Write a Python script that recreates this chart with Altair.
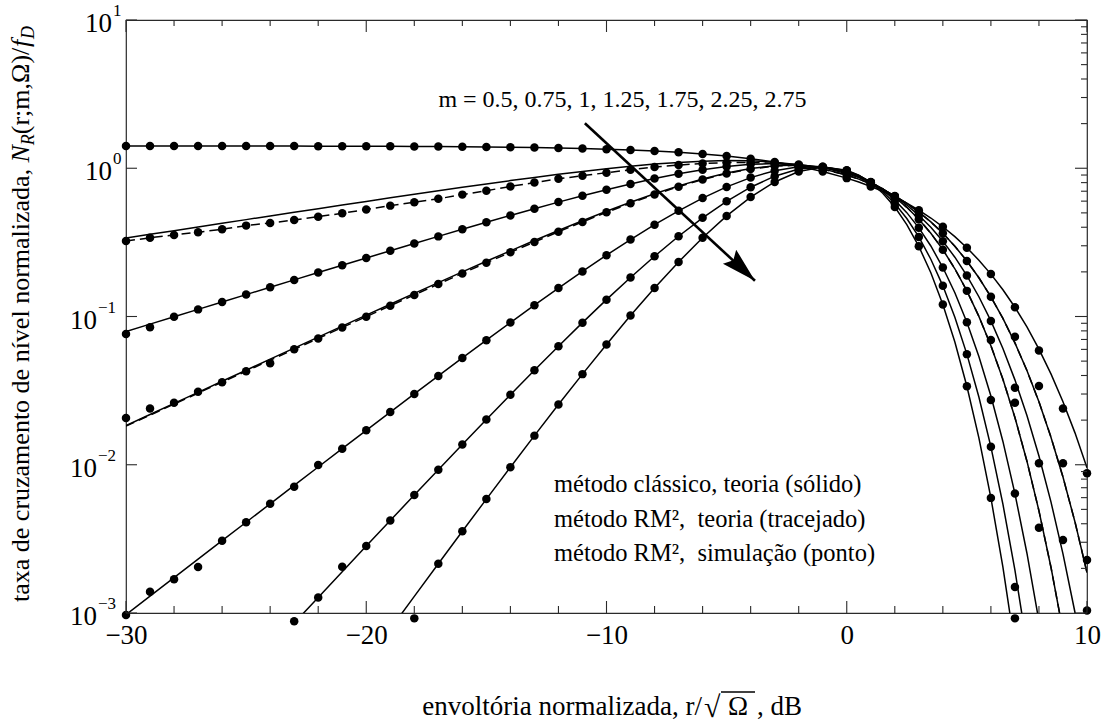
import altair as alt
import pandas as pd

# ---------------- data ----------------
M_LABELS = ["0.5", "0.75", "1", "1.25", "1.75", "2.25", "2.75"]

# x grid of the theory curves (dB)
X_LINE = [-30, -29, -28, -27, -26, -25, -24, -23, -22, -21, -20, -19, -18, -17, -16,
          -15, -14, -13, -12, -11, -10, -9, -8, -7, -6, -5, -4, -3, -2, -1, 0,
          0.5, 1, 1.5, 2, 2.5, 3, 3.5, 4, 4.5, 5, 5.5, 6, 6.5, 7, 7.5, 8, 8.5, 9, 9.5, 10]

# classic method, theory (solid)
CLASSIC_M050 = [1.4135, 1.4133, 1.4131, 1.4128, 1.4124, 1.4120, 1.4114, 1.4107, 1.4098, 1.4086,
                1.4071, 1.4053, 1.4031, 1.4002, 1.3966, 1.3920, 1.3863, 1.3792, 1.3703, 1.3592,
                1.3452, 1.3280, 1.3065, 1.2799, 1.2473, 1.2074, 1.1590, 1.1008, 1.0316, 0.9507,
                0.8578, 0.8070, 0.7536, 0.6979, 0.6403, 0.5813, 0.5215, 0.4617, 0.4028, 0.3455,
                0.2909, 0.2399, 0.1932, 0.1515, 0.1154, 0.0850, 0.0603, 0.0410, 0.0266, 0.01641,
                0.00953]
CLASSIC_M075 = [0.3383, 0.3582, 0.3794, 0.4017, 0.4254, 0.4503, 0.4767, 0.5046, 0.5340, 0.5649,
                0.5975, 0.6317, 0.6674, 0.7048, 0.7437, 0.7839, 0.8253, 0.8675, 0.9100, 0.9521,
                0.9931, 1.0317, 1.0665, 1.0954, 1.1163, 1.1262, 1.1218, 1.0998, 1.0569, 0.9905,
                0.8992, 0.8445, 0.7843, 0.7194, 0.6506, 0.5792, 0.5066, 0.4344, 0.3642, 0.2979,
                0.2369, 0.1826, 0.1358, 0.09708, 0.06639, 0.04319, 0.02657, 0.01535, 0.008266,
                0.004113, 0.001872]
CLASSIC_M100 = [0.07919, 0.08883, 0.09963, 0.1117, 0.1253, 0.1405, 0.1575, 0.1766, 0.1979, 0.2216,
                0.2482, 0.2777, 0.3106, 0.3471, 0.3874, 0.4319, 0.4806, 0.5337, 0.5911, 0.6525,
                0.7172, 0.7842, 0.8516, 0.9171, 0.9772, 1.0275, 1.0622, 1.0751, 1.0594, 1.0095,
                0.9221, 0.8646, 0.7986, 0.7255, 0.6468, 0.5647, 0.4815, 0.3998, 0.3223, 0.2512,
                0.1887, 0.1359, 0.09336, 0.06084, 0.03737, 0.02147, 0.01145, 0.005618, 0.002508,
                0.001008, 0.0003598]
CLASSIC_M125 = [0.01836, 0.02182, 0.02592, 0.03079, 0.03656, 0.04342, 0.05156, 0.06120, 0.07261, 0.08613,
                0.1021, 0.1210, 0.1432, 0.1693, 0.1999, 0.2357, 0.2772, 0.3253, 0.3804, 0.4429,
                0.5130, 0.5903, 0.6736, 0.7605, 0.8474, 0.9286, 0.9961, 1.0408, 1.0517, 1.0191,
                0.9367, 0.8767, 0.8054, 0.7247, 0.6369, 0.5452, 0.4532, 0.3644, 0.2824, 0.2099,
                0.1489, 0.1002, 0.06357, 0.03776, 0.02083, 0.01057, 0.004889, 0.002036, 0.000754,
                0.000245, 0.0000685]
CLASSIC_M175 = [0.0009745, 0.001299, 0.001731, 0.002307, 0.003074, 0.004094, 0.005451, 0.007256, 0.009655, 0.01284,
                0.01706, 0.02265, 0.03003, 0.03975, 0.05254, 0.06926, 0.09105, 0.1193, 0.1555, 0.2015,
                0.2591, 0.3303, 0.4160, 0.5163, 0.6290, 0.7485, 0.8649, 0.9630, 1.0233, 1.0253,
                0.9540, 0.8898, 0.8086, 0.7137, 0.6096, 0.5018, 0.3964, 0.2989, 0.2140, 0.1445,
                0.09145, 0.05376, 0.02910, 0.01436, 0.006389, 0.002530, 0.000880, 0.000264, 0.000067,
                None, None]
CLASSIC_M225 = [None, None, None, None, 0.000256, 0.000383, 0.000572, 0.000854, 0.001274, 0.001899,
                0.002828, 0.004206, 0.006247, 0.009261, 0.01370, 0.02020, 0.02967, 0.04337, 0.06302, 0.09090,
                0.1299, 0.1833, 0.2549, 0.3477, 0.4632, 0.5987, 0.7450, 0.8840, 0.9877, 1.0233,
                0.9639, 0.8960, 0.8054, 0.6973, 0.5787, 0.4582, 0.3440, 0.2433, 0.1610, 0.09879,
                0.05574, 0.02862, 0.01321, 0.005419, 0.001944, 0.000601, 0.000157, None, None,
                None, None]
CLASSIC_M275 = [None, None, None, None, None, None, None, None, None, 0.00028,
                0.000467, 0.000778, 0.001295, 0.002150, 0.003558, 0.005867, 0.009630, 0.01572, 0.02546, 0.04086,
                0.06482, 0.1014, 0.1556, 0.2333, 0.3398, 0.4770, 0.6393, 0.8084, 0.9498, 1.0175,
                0.9703, 0.8988, 0.7992, 0.6787, 0.5475, 0.4168, 0.2973, 0.1972, 0.1206, 0.06725,
                0.03384, 0.01518, 0.005978, 0.002037, 0.000590, 0.000142, None, None, None,
                None, None]

# RM^2 method, theory (dashed) -- visibly different only for m = 0.75 and 1.25
RM2_M075 = [0.3229, 0.3398, 0.3549, 0.3700, 0.3875, 0.4102, 0.4276, 0.4477, 0.4716, 0.4965,
            0.5277, 0.5596, 0.5894, 0.6224, 0.6639, 0.7053, 0.7542, 0.8002, 0.8486, 0.8906,
            0.9332, 0.9771, 1.0180, 1.0504, 1.0771, 1.0917, 1.0943, 1.0795, 1.0439, 0.9844,
            0.8992, 0.8445, 0.7843, 0.7194, 0.6506, 0.5792, 0.5066, 0.4344, 0.3642, 0.2979,
            0.2369, 0.1826, 0.1358, 0.09708, 0.06639, 0.04319, 0.02657, 0.01535, 0.008266,
            0.004113, 0.001872]
RM2_M125 = [0.01822, 0.02162, 0.02564, 0.03041, 0.03606, 0.04275, 0.05069, 0.06007, 0.07116, 0.08428,
            0.09975, 0.1182, 0.1399, 0.1654, 0.1953, 0.2303, 0.2708, 0.3183, 0.3728, 0.4347,
            0.5043, 0.5812, 0.6643, 0.7511, 0.8382, 0.9201, 0.9884, 1.0343, 1.0469, 1.0168,
            0.9367, 0.8767, 0.8054, 0.7247, 0.6369, 0.5452, 0.4532, 0.3644, 0.2824, 0.2099,
            0.1489, 0.1002, 0.06357, 0.03776, 0.02083, 0.01057, 0.004889, 0.002036, 0.000754,
            0.000245, 0.0000685]

# RM^2 method, simulation (dots), one per dB from -30 to 10
SIM_X = [-30, -29, -28, -27, -26, -25, -24, -23, -22, -21, -20, -19, -18, -17, -16, -15, -14,
         -13, -12, -11, -10, -9, -8, -7, -6, -5, -4, -3, -2, -1, 0, 1, 2, 3, 4, 5, 6, 7, 8, 9, 10]
SIM_M050 = [1.4135, 1.4133, 1.4131, 1.4128, 1.4124, 1.4120, 1.4114, 1.4107, 1.4098, 1.4086,
            1.4071, 1.4053, 1.4031, 1.4002, 1.3966, 1.3920, 1.3863, 1.3792, 1.3703, 1.3592,
            1.3452, 1.3280, 1.3065, 1.2799, 1.2473, 1.2074, 1.1590, 1.1008, 1.0316, 0.9507,
            0.8578, 0.7536, 0.6403, 0.5215, 0.4028, 0.2909, 0.1932, 0.1154, 0.0590, 0.0240,
            0.00876]
SIM_M075 = [0.3229, 0.3398, 0.3549, 0.3700, 0.3875, 0.4102, 0.4276, 0.4477, 0.4716, 0.4965,
            0.5277, 0.5596, 0.5894, 0.6224, 0.6639, 0.7053, 0.7542, 0.8002, 0.8486, 0.8906,
            0.9332, 0.9771, 1.0180, 1.0504, 1.0771, 1.0917, 1.0943, 1.0795, 1.0439, 0.9844,
            0.8992, 0.7843, 0.6506, 0.5066, 0.3642, 0.2369, 0.1358, 0.0731, 0.0340, 0.01023,
            0.00228]
SIM_M100 = [0.0761, 0.0846, 0.09963, 0.1117, 0.1253, 0.1405, 0.1575, 0.1766, 0.1979, 0.2216,
            0.2482, 0.2777, 0.3106, 0.3471, 0.3874, 0.4319, 0.4806, 0.5337, 0.5911, 0.6525,
            0.7172, 0.7842, 0.8516, 0.9171, 0.9772, 1.0275, 1.0622, 1.0751, 1.0594, 1.0095,
            0.9221, 0.7986, 0.6468, 0.4815, 0.3223, 0.1887, 0.09336, 0.0331, 0.01023, 0.00311,
            0.00104]
SIM_M125 = [0.02067, 0.0240, 0.0262, 0.0311, 0.03606, 0.04275, 0.0483, 0.06007, 0.07116, 0.08428,
            0.09975, 0.1182, 0.1399, 0.1654, 0.1953, 0.2303, 0.2708, 0.3183, 0.3728, 0.4347,
            0.5043, 0.5812, 0.6643, 0.7511, 0.8382, 0.9201, 0.9884, 1.0343, 1.0469, 1.0168,
            0.9367, 0.8054, 0.6369, 0.4532, 0.2824, 0.1489, 0.0694, 0.0262, 0.00376, None,
            None]
SIM_M175 = [0.00097, 0.001392, 0.001688, 0.002043, 0.003074, 0.004094, 0.005451, 0.00711, 0.00996, 0.01284,
            0.01706, 0.02265, 0.03003, 0.03975, 0.05254, 0.06926, 0.09105, 0.1193, 0.1555, 0.2015,
            0.2591, 0.3303, 0.4160, 0.5163, 0.6290, 0.7485, 0.8649, 0.9630, 1.0233, 1.0253,
            0.9540, 0.8086, 0.6096, 0.3964, 0.2140, 0.09145, 0.02733, 0.006389, None, None,
            None]
SIM_M225 = [None, None, None, None, None, None, None, 0.00088, 0.001274, 0.00205,
            0.002828, 0.004206, 0.006247, 0.009261, 0.01370, 0.02020, 0.02967, 0.04337, 0.06302, 0.09090,
            0.1299, 0.1833, 0.2549, 0.3477, 0.4632, 0.5987, 0.7450, 0.8840, 0.9877, 1.0233,
            0.9639, 0.8054, 0.5787, 0.3440, 0.1610, 0.05574, 0.01321, 0.00150, None, None,
            None]
SIM_M275 = [None, None, None, None, None, None, None, None, None, None,
            None, None, 0.00092, 0.002150, 0.003558, 0.005867, 0.009630, 0.01572, 0.02546, 0.04086,
            0.06482, 0.1014, 0.1556, 0.2333, 0.3398, 0.4770, 0.6393, 0.8084, 0.9498, 1.0175,
            0.9703, 0.7992, 0.5475, 0.2973, 0.1206, 0.03384, 0.005978, 0.00092, None, None,
            None]

# axis ticks / labels
XT_MAJOR = [-30, -20, -10, 0, 10]
XT_MINOR = [-28, -26, -24, -22, -18, -16, -14, -12, -8, -6, -4, -2, 2, 4, 6, 8]
YT_MAJOR = [0.001, 0.01, 0.1, 1, 10]
YT_MINOR = [k * 10.0 ** e for e in (-3, -2, -1, 0) for k in range(2, 10)]
YLAB_VALUE = [10, 1, 0.1, 0.01, 0.001]
YLAB_EXP = ["1", "0", "\u22121", "\u22122", "\u22123"]

# annotation arrow (data coordinates: dB, rate)
ARROW_X = [-10.9, -3.82]
ARROW_Y = [2.01, 0.1744]

M_NOTE = "m = 0.5, 0.75, 1, 1.25, 1.75, 2.25, 2.75"
LEGEND_LINES = ["método clássico, teoria (sólido)",
                "método RM²,\u00a0 teoria (tracejado)",
                "método RM²,\u00a0 simulação (ponto)"]
X_TITLE_LEFT = "envoltória normalizada, r/"
X_TITLE_RIGHT = ", dB"
Y_TITLE_MAIN = "taxa de cruzamento de nível normalizada, "

# ---------------- tables ----------------
def long_table(xs, series):
    rows = []
    for lab, vals in series:
        for xv, yv in zip(xs, vals):
            if yv is not None:
                rows.append({"x": xv, "y": yv, "m": lab})
    return pd.DataFrame(rows)

classic = [CLASSIC_M050, CLASSIC_M075, CLASSIC_M100, CLASSIC_M125,
           CLASSIC_M175, CLASSIC_M225, CLASSIC_M275]
sims = [SIM_M050, SIM_M075, SIM_M100, SIM_M125, SIM_M175, SIM_M225, SIM_M275]

df_lines = long_table(X_LINE, list(zip(M_LABELS, classic)))
df_dash = long_table(X_LINE, [("0.75", RM2_M075), ("1.25", RM2_M125)])
df_dots = long_table(SIM_X, list(zip(M_LABELS, sims)))

FONT = "Times New Roman, Liberation Serif, DejaVu Serif, serif"
FRAME = "#2a2a2a"
W, H = 961, 593

xs = alt.Scale(domain=[-30, 10], nice=False, zero=False)
ys = alt.Scale(type="log", domain=[0.001, 10], nice=False)

x_axis = alt.Axis(values=XT_MAJOR,
                  labelExpr="datum.value < 0 ? '\u2212' + abs(datum.value) : '' + datum.value",
                  ticks=False, domain=False, grid=False, labelFont=FONT, labelFontSize=27,
                  labelColor="black", labelPadding=9, labelFlush=False, labelOverlap=False,
                  title=None)
X = alt.X("x:Q", scale=xs, axis=x_axis)
Y = alt.Y("y:Q", scale=ys, axis=None)

lines = alt.Chart(df_lines).mark_line(color="black", strokeWidth=1.5, clip=True).encode(
    x=X, y=Y, detail="m:N")
dashed = alt.Chart(df_dash).mark_line(color="black", strokeWidth=1.5, strokeDash=[9, 5],
                                      clip=True).encode(x=X, y=Y, detail="m:N")
dots = alt.Chart(df_dots).mark_circle(color="black", size=72, opacity=1).encode(x=X, y=Y)

# inward ticks
dfx_maj = pd.DataFrame({"x": XT_MAJOR})
dfx_min = pd.DataFrame({"x": XT_MINOR})
dfy_maj = pd.DataFrame({"y": YT_MAJOR})
dfy_min = pd.DataFrame({"y": YT_MINOR})
tick = dict(color=FRAME, strokeWidth=1.1)
ticks = [
    alt.Chart(dfx_maj).mark_rule(**tick).encode(x=X, y=alt.value(H), y2=alt.value(H - 12)),
    alt.Chart(dfx_min).mark_rule(**tick).encode(x=X, y=alt.value(H), y2=alt.value(H - 7)),
    alt.Chart(dfx_maj).mark_rule(**tick).encode(x=X, y=alt.value(0), y2=alt.value(12)),
    alt.Chart(dfx_min).mark_rule(**tick).encode(x=X, y=alt.value(0), y2=alt.value(6)),
    alt.Chart(dfy_maj).mark_rule(**tick).encode(y=Y, x=alt.value(0), x2=alt.value(11)),
    alt.Chart(dfy_maj).mark_rule(**tick).encode(y=Y, x=alt.value(W), x2=alt.value(W - 12)),
    alt.Chart(dfy_min).mark_rule(**tick).encode(y=Y, x=alt.value(W), x2=alt.value(W - 6)),
]

# y tick labels 10^k
df_ylab = pd.DataFrame({"y": YLAB_VALUE, "e": YLAB_EXP})
ylabels = [
    alt.Chart(df_ylab).transform_filter("datum.y >= 1").mark_text(
        text="10", align="right", baseline="alphabetic", dy=12, font=FONT, fontSize=27,
        color="black").encode(y=Y, x=alt.value(-14)),
    alt.Chart(df_ylab).transform_filter("datum.y < 1").mark_text(
        text="10", align="right", baseline="alphabetic", dy=12, font=FONT, fontSize=27,
        color="black").encode(y=Y, x=alt.value(-29)),
    alt.Chart(df_ylab).transform_filter("datum.y >= 1").mark_text(
        align="left", baseline="alphabetic", dy=-4, font=FONT, fontSize=17,
        color="black").encode(y=Y, x=alt.value(-13), text="e:N"),
    alt.Chart(df_ylab).transform_filter("datum.y < 1").mark_text(
        align="left", baseline="alphabetic", dy=-4, font=FONT, fontSize=17,
        color="black").encode(y=Y, x=alt.value(-28), text="e:N"),
]

# arrow
df_arrow = pd.DataFrame({"x": [ARROW_X[0]], "y": [ARROW_Y[0]],
                         "x1": [ARROW_X[1]], "y1": [ARROW_Y[1]]})
arrow = alt.Chart(df_arrow).mark_rule(color="black", strokeWidth=2.6).encode(
    x=X, y=Y, x2="x1:Q", y2="y1:Q")
df_head = pd.DataFrame({"x": [ARROW_X[1]], "y": [ARROW_Y[1]]})
head = alt.Chart(df_head).mark_point(
    shape="M0,0 L-0.55,2 L0,1.7 L0.55,2 Z", filled=True, size=1225, angle=133.4,
    color="black", opacity=1, strokeWidth=0).encode(x=X, y=Y)


def label(txt, x, y, size=24, align="left", angle=0, style="normal", baseline="alphabetic"):
    return alt.Chart(pd.DataFrame({"t": [txt]})).mark_text(
        align=align, baseline=baseline, font=FONT, fontSize=size, angle=angle,
        fontStyle=style, color="black").encode(x=alt.value(x), y=alt.value(y), text="t:N")


texts = [
    label(M_NOTE, 496.5, 87, size=24, align="center"),
    label(LEGEND_LINES[0], 428, 472, size=24.5),
    label(LEGEND_LINES[1], 428, 507, size=24.5),
    label(LEGEND_LINES[2], 428, 541, size=24.5),
    # x title
    label(X_TITLE_LEFT, 576, 695, size=27, align="right"),
    label("\u221a", 578, 697, size=30),
    label("\u03a9", 612, 695, size=27, align="center"),
    label(X_TITLE_RIGHT, 631, 695, size=27),
    # y title (rotated)
    label(Y_TITLE_MAIN, -97.5, 582, size=26, angle=270),
    label("N", -97.5, 142.6, size=26, angle=270, style="italic"),
    label("R", -92.5, 125.3, size=18, angle=270, style="italic"),
    label("(r;m,\u03a9)/", -97.5, 114.2, size=26, angle=270),
    label("f", -97.5, 27.1, size=26, angle=270, style="italic"),
    label("D", -92.5, 19.0, size=18, angle=270, style="italic"),
]
vinculum = alt.Chart(pd.DataFrame({"a": [0]})).mark_rule(color="black", strokeWidth=1.3).encode(
    x=alt.value(595), x2=alt.value(629), y=alt.value(672))

chart = alt.layer(lines, dashed, dots, *ticks, *ylabels, arrow, head, *texts, vinculum).properties(
    width=W, height=H,
    autosize=alt.AutoSizeParams(type="none"),
    padding={"left": 126, "top": 20, "right": 17, "bottom": 112},
    background="white",
).configure(font=FONT).configure_view(stroke=FRAME, strokeWidth=1.2)

chart.save("out.html", embed_options={"renderer": "svg", "actions": False})
